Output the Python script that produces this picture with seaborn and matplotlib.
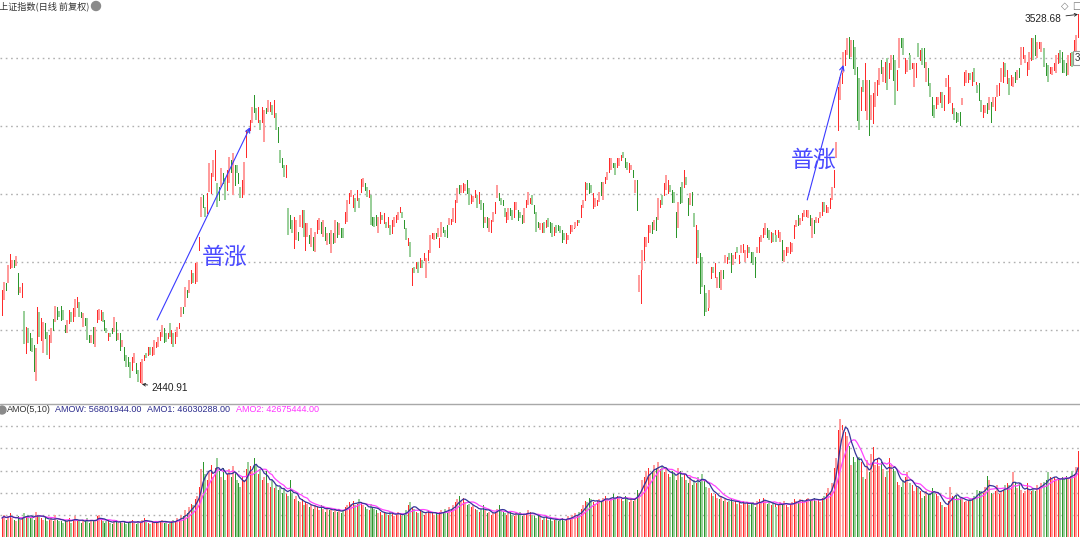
import numpy as np
import pandas as pd
import matplotlib
matplotlib.use("Agg")
import matplotlib.pyplot as plt
from matplotlib.lines import Line2D
from matplotlib.patches import Ellipse
import seaborn as sns

# ---------------- data (上证指数 daily) ----------------
opens = [
2645,2689,2739,2739,2783,2783,2806,2789,2768,2709,
2698,2656,2533,2606,2592,2577,2556,2450,2562,2653,
2571,2533,2621,2595,2518,2562,2633,2624,2668,2656,
2671,2659,2615,2592,2621,2653,2627,2639,2668,2683,
2653,2609,2636,2636,2586,2562,2609,2550,2624,2630,
2630,2653,2630,2606,2571,2592,2606,2595,2624,2571,
2592,2550,2550,
2527,2521,2506,2483,2503,2503,2483,2448,2441,2512,
2533,2527,2550,2527,2527,2550,2550,2571,2580,2606,
2592,2577,2621,2562,2592,2562,2580,2606,2639,2668,
2668,2718,2709,2739,2768,2739,2742,2836,2933,2998,
2962,2945,3006,3003,3050,3042,3033,3021,3021,3062,
3048,3012,3033,3100,2998,3086,3086,3062,3021,2992,
2998,3109,3189,3189,3209,3292,3253,3212,3218,3212,
3153,3253,3242,3245,3262,3227,3239,3198,3130,3106,
3086,3050,
2960,2939,2924,2842,2865,2889,2903,2903,2953,2836,
2874,2880,2845,2874,2830,2886,2895,2918,2874,2903,
2850,2886,2827,2886,2856,2918,2880,2900,2900,2915,
2918,2974,2992,2962,2989,2983,
2989,3006,3021,3033,3021,2992,2998,2933,2933,2939,
2886,2915,2939,2915,2918,2903,2909,2886,2903,2918,
2924,2948,2948,2924,2900,2850,2859,2733,2786,2783,
2800,2786,2806,2806,2753,2806,2827,2871,2865,2886,
2874,2845,2874,2903,2895,2909,2909,2912,2918,2918,
2974,3027,3003,3006,3008,3042,3018,2974,2977,2992,
2998,2974,2983,2974,2915,2933,2889,2889,2918,2945,
2989,3003,2989,2983,2959,2918,2924,2959,2953,2933,
2953,2953,2948,2939,2915,2962,2968,2974,2998,2968,
2948,2918,2895,2889,2918,2903,2930,2918,2915,2880,
2909,2909,2906,2895,2886,2856,2865,2886,2889,2900,
2900,2909,2924,2933,2959,2983,3033,3033,3027,2959,
2962,2968,2977,3036,2983,3033,3042,3065,3071,3092,
3092,3080,3083,3100,3124,3106,3095,3065,3071,3071,
3003,3042,2712,2680,2777,2806,2845,2859,2886,2918,
2895,2933,2924,2962,2998,2998,3012,3003,3027,3012,
3006,2948,2900,3021,3036,3021,3050,2989,2968,3006,
2945,2798,2895,2827,2815,2733,2709,2659,2665,2753,
2786,2756,2724,2771,
2718,2777,2798,2798,2827,2827,2792,2812,2845,2798,
2827,2830,2800,2815,2845,2830,2830,2815,2827,2830,
2859,2874,2880,2900,2895,2859,2886,2874,2880,2874,
2859,2865,2800,2821,2827,2827,2830,2871,2903,2939,
2909,2924,2933,2935,2930,2939,2871,2924,2915,2918,
2930,2939,2977,2948,2945,2959,2983,3021,3106,3189,
3277,3327,3356,3380,3409,3462,3403,3453,3433,3374,
3342,3247,3336,3247,3218,3336,3218,3209,3256,3292,
3321,3395,3330,3330,3400,3342,3365,3409,3395,3306,
3371,3459,3459,3356,3359,3415,3409,3371,3315,3345,
3445,3395,3430,3430,3330,3371,3327,3286,3262,3253,
3262,3271,3300,3247,3315,3268,3268,3239,3253,3242,
3239,3242,3262,3321,3327,3330,3356,3321,3371,3300,
3321,3327,3277,3227,3239,3268,3247,3271,3256,3247,
3286,3292,3330,3330,3386,3327,3342,3321,3315,3359,
3336,3371,3380,3400,3386,3350,3365,3395,3459,3468,
3400,3430,3418,3430,3430,3386,3380,3356,3350,3365,
3356,3386,3424,3418,3395,3386,3350,3380,3418,3386,
3409,3462,
]

closes = [
2718,2742,2718,2792,2824,2806,2786,2818,2706,2727,
2739,2559,2609,2562,2542,2536,2480,2548,2668,2580,
2636,2624,2577,2527,2586,2606,2600,2671,2633,2639,
2630,2630,2595,2630,2659,2624,2665,2692,2698,2639,
2639,2650,2615,2571,2565,2586,2562,2609,2659,2662,
2659,2624,2600,2592,2592,2580,2592,2639,2571,2592,
2542,2571,2512,
2492,2495,2459,2521,2533,2474,2448,2506,2514,2527,
2518,2550,2527,2550,2571,2565,2580,2595,2615,2565,
2565,2592,2580,2600,2550,2595,2609,2621,2668,2650,
2727,2698,2748,2777,2739,2798,2800,2874,2992,2962,
2933,3003,3092,3062,3100,3130,2962,2983,3077,3033,
2983,3071,3109,3065,3121,3027,3062,3033,2989,3042,
3095,3189,3180,3218,3256,3242,3218,3256,3189,3256,
3247,3239,3277,3271,3233,3277,3189,3153,3092,3080,
3050,3086,
2880,2900,2886,2933,2924,2865,2939,2953,2874,2915,
2915,2856,2900,2836,2889,2924,2930,2886,2924,2865,
2886,2856,2895,2856,2924,2874,2915,2874,2871,2948,
2983,3003,3012,2998,2948,3012,
2959,3045,3048,3012,2992,3012,2909,2909,2903,2909,
2933,2948,2924,2945,2900,2933,2880,2924,2933,2939,
2948,2962,2930,2900,2865,2871,2815,2783,2768,2800,
2768,2812,2783,2827,2812,2836,2880,2886,2886,2871,
2900,2871,2918,2889,2874,2874,2930,2928,2959,2983,
3018,3003,3027,3033,3031,3003,2968,2998,2995,3012,
2959,3006,2953,2903,2933,2903,2930,2924,2948,2977,
3027,2983,2968,2968,2933,2948,2959,2939,2924,2977,
2977,2924,2930,2915,2959,2983,3006,2989,2968,2945,
2889,2903,2915,2915,2886,2924,2903,2889,2874,2903,
2886,2895,2886,2859,2865,2886,2880,2909,2909,2915,
2918,2924,2915,2968,2983,3036,3012,3003,3003,3003,
2989,2983,3006,2998,3036,3050,3065,3106,3106,3080,
3056,3106,3106,3115,3106,3080,3071,3092,3086,3050,
3042,2953,2762,2786,2836,2874,2874,2909,2909,2886,
2924,2895,2989,2983,2968,3033,3056,3042,3006,2977,
2974,2874,2977,2974,2974,3071,3027,2939,3003,2968,
2903,2909,2812,2709,2727,2645,2653,2698,2718,2786,
2768,2798,2756,2727,
2777,2753,2821,2815,2806,2771,2821,2830,2827,2821,
2850,2852,2836,2850,2827,2800,2792,2756,2845,2874,
2880,2900,2915,2874,2865,2889,2859,2895,2859,2895,
2889,2806,2836,2845,2845,2859,2856,2909,2924,2909,
2930,2945,2953,2953,2953,2909,2930,2886,2933,2930,
2948,2977,2948,2968,2962,2989,3021,3071,3153,3315,
3345,3415,3418,3424,3459,3400,3453,3371,3350,3218,
3189,3315,3300,3386,3336,3174,3292,3298,3330,3336,
3371,3356,3374,3389,3306,3386,3409,3336,3262,3365,
3459,3433,3409,3400,3395,3371,3365,3386,3386,3386,
3403,3424,3380,3374,3389,3321,3286,3233,3224,3286,
3286,3300,3253,3292,3342,3350,3315,3268,3218,3212,
3212,3203,3283,3359,3365,3356,3336,3359,3330,3330,
3298,3277,3242,3262,3262,3239,3286,3212,3286,3286,
3321,3327,3371,3389,3345,3365,3292,3350,3345,3330,
3365,3345,3433,3433,3409,3389,3418,3459,3395,3409,
3447,3447,3447,3409,3374,3350,3330,3374,3374,3386,
3409,3415,3386,3359,3356,3350,3409,3415,3374,3453,
3468,3528.68,
]

# turnover (AMO), millions of 万元
amount = [
14,16,13,15,17,14,13,12,15,13, 14,17,15,16,14,15,13,18,16,15,
14,13,15,12,13,14,12,16,13,12, 12,11,13,12,14,11,13,15,12,12,
11,13,12,14,11,12,13,12,15,16, 13,12,11,12,13,11,10,12,13,11,
12,11,12,10,11,12,13,11,10,12, 11,13,14,12,11,10,12,11,12,11,
12,13,11,12,10,11,12,13,12,14, 13,16,15,19,17,21,23,22,26,28,
34,45,50,42,38,44,48,40,46,52, 44,40,46,38,42,45,40,47,43,38,
36,34,40,38,45,50,47,44,52,48, 42,45,38,40,44,36,34,38,33,35,
32,34,30,33,29,28,38,30,26,28, 25,24,26,22,24,23,21,22,20,22,
21,19,22,20,18,21,19,20,18,19, 18,20,17,19,21,22,24,23,25,22,
23,26,24,22,21,20,19,23,21,20, 19,17,18,16,18,17,16,18,17,15,
16,18,17,15,16,19,22,24,21,20, 18,17,19,18,16,17,19,18,17,16,
17,16,18,19,17,20,18,21,20,22, 24,26,28,25,27,24,22,23,21,22,
20,19,18,20,22,19,17,18,16,17, 18,20,22,19,18,17,16,17,18,16,
15,17,16,18,15,16,17,19,18,16, 15,14,16,15,13,14,15,13,14,12,
13,14,12,13,14,12,13,15,14,16, 15,17,16,18,20,22,25,24,27,26,
24,23,25,26,24,27,28,26,25,27, 29,26,28,27,26,25,28,27,24,26,
25,27,32,30,36,38,40,44,46,42, 44,48,46,50,45,47,43,45,42,40,
44,42,38,46,44,40,42,38,36,40, 35,38,36,40,37,42,38,34,32,33,
30,28,29,27,26,28,25,26,24,25, 26,24,25,23,24,22,25,23,24,22,
23,24,21,25,26,24,27,25,23,24, 22,24,23,21,22,24,23,25,22,21,
23,24,26,25,24,26,25,24,26,27, 25,26,27,25,26,24,27,28,30,33,
30,36,46,52,70,77,73,70,69,66, 60,48,53,50,52,53,50,40,39,51,
43,55,59,48,52,47,50,45,40,44, 52,48,45,44,37,35,34,38,40,43,
35,36,35,31,34,33,31,27,28,31, 29,30,33,31,29,28,24,22,21,21,
25,34,28,27,28,27,27,26,24,25, 25,26,27,28,29,32,31,31,30,34,
41,38,30,29,31,35,29,31,32,35, 36,35,34,43,36,33,36,32,30,31,
36,32,31,33,31,35,34,36,36,37, 38,43,40,39,40,39,38,38,40,39,
41,38.6,40.6,44,42,46.75,56.8,
]

price_grid = [2600, 2800, 3000, 3200, 3400]
title_text = "上证指数(日线 前复权)"
legend_items = [("AMO(5,10)", "#333333"), ("AMOW: 56801944.00", "#2b2b8c"),
                ("AMO1: 46030288.00", "#2b2b8c"), ("AMO2: 42675444.00", "#ff33ff")]
low_value = 2440.91
high_value = 3528.68
annot_text = "普涨"

# ---------------- figure ----------------
sns.set_theme(style="white")
plt.rcParams["font.family"] = ["Noto Sans CJK SC", "DejaVu Sans"]

W, H = 1080, 537
fig = plt.figure(figsize=(W / 100, H / 100), dpi=100)
axp = fig.add_axes([0, 137 / H, 1, 400 / H])
axv = fig.add_axes([0, 0, 1, 133 / H])

n = len(closes)
assert len(opens) == n and len(amount) == n
idx = np.arange(n)
o = np.array(opens, float)
c = np.array(closes, float)
up = c >= o
lo = np.minimum(o, c)
hi = np.maximum(np.maximum(o, c), lo + 4)

RED, GREEN = "#ff2b2b", "#2c962c"
RED_L, GREEN_L = "#ff9c9c", "#9acf9a"
dark = (idx % 2 == 0)
col_dark = np.where(up, RED, GREEN)
col_light = np.where(up, RED_L, GREEN_L)

s = 1076 / (n - 1)
x0 = -2 / s
x1 = x0 + W / s

def draw_bars(ax, bottoms, tops):
    a = ax.vlines(idx[dark], bottoms[dark], tops[dark], colors=col_dark[dark],
                  lw=0.72, zorder=2, antialiased=False)
    b = ax.vlines(idx[~dark], bottoms[~dark], tops[~dark], colors=col_light[~dark],
                  lw=1.44, zorder=2, antialiased=False)
    return a, b

# price panel
for p in price_grid:
    axp.axhline(p, color="#b0b0b0", lw=1.0, ls=(0, (1.2, 2.6)), zorder=0)
draw_bars(axp, lo, hi)
ytop = 3571.0
axp.set_ylim(ytop - 2.941 * 400, ytop)
axp.set_xlim(x0, x1)
axp.axis("off")

# annotations
blue = "#3a3aff"
axp.annotate("", xy=(125.9, 3197), xytext=(78.7, 2630),
             arrowprops=dict(arrowstyle="->", color=blue, lw=0.8, mutation_scale=8,
                             shrinkA=0, shrinkB=0))
axp.annotate("", xy=(426.9, 3380), xytext=(408.6, 2983),
             arrowprops=dict(arrowstyle="->", color=blue, lw=0.8, mutation_scale=8,
                             shrinkA=0, shrinkB=0))
axp.text(113.2, 2815, annot_text, fontsize=16.5, color="#4a4aff", ha="center", va="center",
         family=["Noto Sans CJK SC"])
axp.text(411.7, 3100, annot_text, fontsize=16.5, color="#4a4aff", ha="center", va="center",
         family=["Noto Sans CJK SC"])

low_i = int(np.argmin(lo))
axp.annotate(f"{low_value:.2f}", xy=(low_i, low_value), xytext=(7, -2.5),
             textcoords="offset points", ha="left", va="center", fontsize=7.3,
             color="#222222", family=["Liberation Sans"],
             arrowprops=dict(arrowstyle="->", color="#222222", lw=0.6, mutation_scale=5,
                             shrinkA=0.5, shrinkB=0))
axp.annotate(f"{high_value:.2f}", xy=(n - 1, high_value), xytext=(-12, -3),
             textcoords="offset points", ha="right", va="center", fontsize=7.3,
             color="#222222", family=["Liberation Sans"],
             arrowprops=dict(arrowstyle="->", color="#222222", lw=0.6, mutation_scale=5,
                             shrinkA=1, shrinkB=0))

# volume panel
vol = pd.Series(amount, dtype=float)
ma5 = vol.rolling(5, min_periods=1).mean()
ma10 = vol.rolling(10, min_periods=1).mean()
vlo, vhi = (540 - 537) / 1.57, (540 - 404) / 1.57
for k in range(1, 6):
    axv.axhline(vlo + k / 6 * (vhi - vlo), color="#b0b0b0", lw=1.0, ls=(0, (1.2, 2.6)), zorder=0)
draw_bars(axv, np.zeros(n), vol.values)
sns.lineplot(x=idx, y=ma10.values, ax=axv, color="#ff44ff", lw=0.9, zorder=3)
sns.lineplot(x=idx, y=ma5.values, ax=axv, color="#35359a", lw=0.9, zorder=4)
axv.set_ylim(vlo, vhi)
axv.set_xlim(x0, x1)
axv.axis("off")

# separator and header texts
fig.add_artist(Line2D([0, 1], [1 - 403.5 / H] * 2, transform=fig.transFigure,
                      color="#a8a8a8", lw=1.0))
fig.text(-1 / W, 1 - 6 / H, title_text, fontsize=6.6, ha="left", va="center", color="#333333")
fig.add_artist(Ellipse((96 / W, 1 - 6 / H), 9 / W, 9 / H, transform=fig.transFigure,
                       color="#8a8a8a"))
fig.add_artist(Ellipse((2 / W, 1 - 410 / H), 8 / W, 8 / H, transform=fig.transFigure,
                       color="#8a8a8a"))
xs = [7, 55, 147, 236]
for (txt, col), xp in zip(legend_items, xs):
    fig.text(xp / W, 1 - 410 / H, txt, fontsize=6.5, ha="left", va="center", color=col,
             family=["Liberation Sans"])
fig.text(1065 / W, 1 - 6 / H, "◇", fontsize=7, ha="center", va="center", color="#777777",
         family=["DejaVu Sans"])
fig.text(1077 / W, 1 - 6 / H, "□", fontsize=7, ha="center", va="center", color="#777777",
         family=["DejaVu Sans"])
fig.text(1075 / W, 1 - 58 / H, "3400.00", fontsize=7, ha="left", va="center", color="#333333",
         family=["Liberation Sans"],
         bbox=dict(boxstyle="square,pad=0.25", fc="white", ec="#999999", lw=0.8))

fig.savefig("out.png", dpi=100)
